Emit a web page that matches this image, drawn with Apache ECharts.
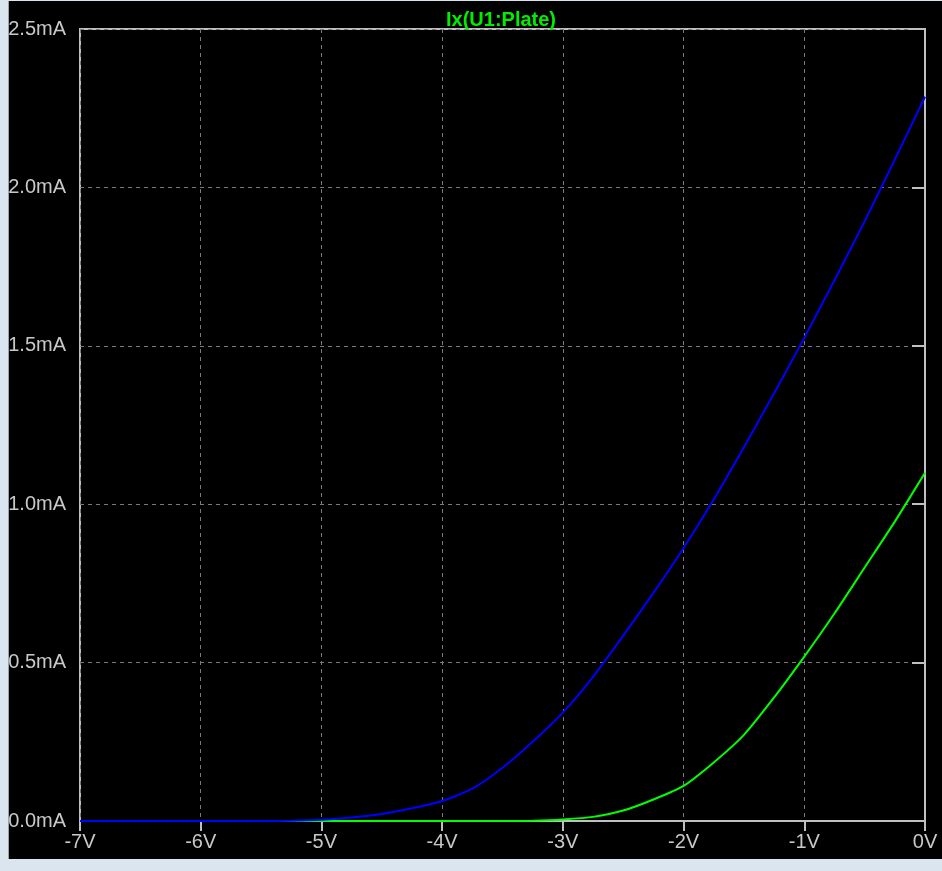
<!DOCTYPE html>
<html>
<head>
<meta charset="utf-8">
<script src="https://cdn.jsdelivr.net/npm/echarts@6/dist/echarts.min.js"></script>
<style>
  html, body { margin: 0; padding: 0; background: #dbe5f0; width: 942px; height: 871px; overflow: hidden; }
  #chart { position: absolute; left: 8px; top: 1px; width: 934px; height: 858px; border-left: 1px solid #9aa4ae; box-sizing: border-box; }
</style>
</head>
<body>
<div id="chart"></div>
<script>
// Grid voltage (V)
const voltages = [-7, -6, -5.5, -5.25, -5, -4.75, -4.5, -4.25, -4, -3.75, -3.5, -3.25, -3, -2.75, -2.5, -2.25, -2, -1.75, -1.5, -1.25, -1, -0.75, -0.5, -0.25, 0];
// Plate current (mA), blue trace
const blueCurrent = [0, 0, 0, 0.001, 0.004, 0.011, 0.022, 0.04, 0.063, 0.102, 0.168, 0.25, 0.342, 0.455, 0.585, 0.72, 0.862, 1.015, 1.18, 1.35, 1.525, 1.707, 1.893, 2.088, 2.286];
// Plate current (mA), green trace
const greenCurrent = [0, 0, 0, 0, 0, 0, 0, 0, 0, 0, 0, 0.001, 0.005, 0.013, 0.033, 0.068, 0.111, 0.185, 0.272, 0.39, 0.519, 0.655, 0.80, 0.945, 1.099];
const titleText = 'Ix(U1:Plate)';

const pair = (xs, ys) => xs.map((x, i) => [x, ys[i]]);

const chart = echarts.init(document.getElementById('chart'), null, { renderer: 'canvas' });
const axisCol = '#c0c0c0';
const labelFont = { color: '#c8c8c8', fontFamily: 'Liberation Sans, Arial, sans-serif', fontSize: 20 };

chart.setOption({
  backgroundColor: '#000000',
  animation: false,
  title: {
    text: titleText,
    left: 487,
    textAlign: 'center',
    top: 4,
    textStyle: { color: '#00ee00', fontFamily: 'Liberation Sans, Arial, sans-serif', fontWeight: 'bold', fontSize: 20 }
  },
  grid: {
    left: 71, top: 28, right: 17, bottom: 38,
    containLabel: false, outerBoundsMode: 'none',
    show: true, borderColor: axisCol, borderWidth: 2, backgroundColor: '#000000'
  },
  xAxis: {
    type: 'value', min: -7, max: 0, interval: 1,
    axisLine: { show: true, lineStyle: { color: axisCol, width: 2 } },
    axisTick: { show: true, length: 10, lineStyle: { color: axisCol, width: 2 } },
    axisLabel: Object.assign({ margin: 11, formatter: v => v + 'V' }, labelFont),
    splitLine: { show: true, lineStyle: { color: '#7a7a7a', width: 1, type: [4, 4] } }
  },
  yAxis: {
    type: 'value', min: 0, max: 2.5, interval: 0.5,
    axisLine: { show: true, lineStyle: { color: axisCol, width: 2 } },
    axisTick: { show: true, length: 13, lineStyle: { color: axisCol, width: 2 } },
    axisLabel: Object.assign({ margin: 14, formatter: v => v.toFixed(1) + 'mA' }, labelFont),
    splitLine: { show: true, lineStyle: { color: '#7a7a7a', width: 1, type: [4, 4] } }
  },
  series: [
    { name: 'green', type: 'line', data: pair(voltages, greenCurrent), showSymbol: false, smooth: 0.2,
      lineStyle: { color: '#00ff00', width: 2 }, itemStyle: { color: '#00ff00' } },
    { name: 'blue', type: 'line', data: pair(voltages, blueCurrent), showSymbol: false, smooth: 0.2,
      lineStyle: { color: '#0000ff', width: 2 }, itemStyle: { color: '#0000ff' } }
  ]
});
</script>
</body>
</html>
